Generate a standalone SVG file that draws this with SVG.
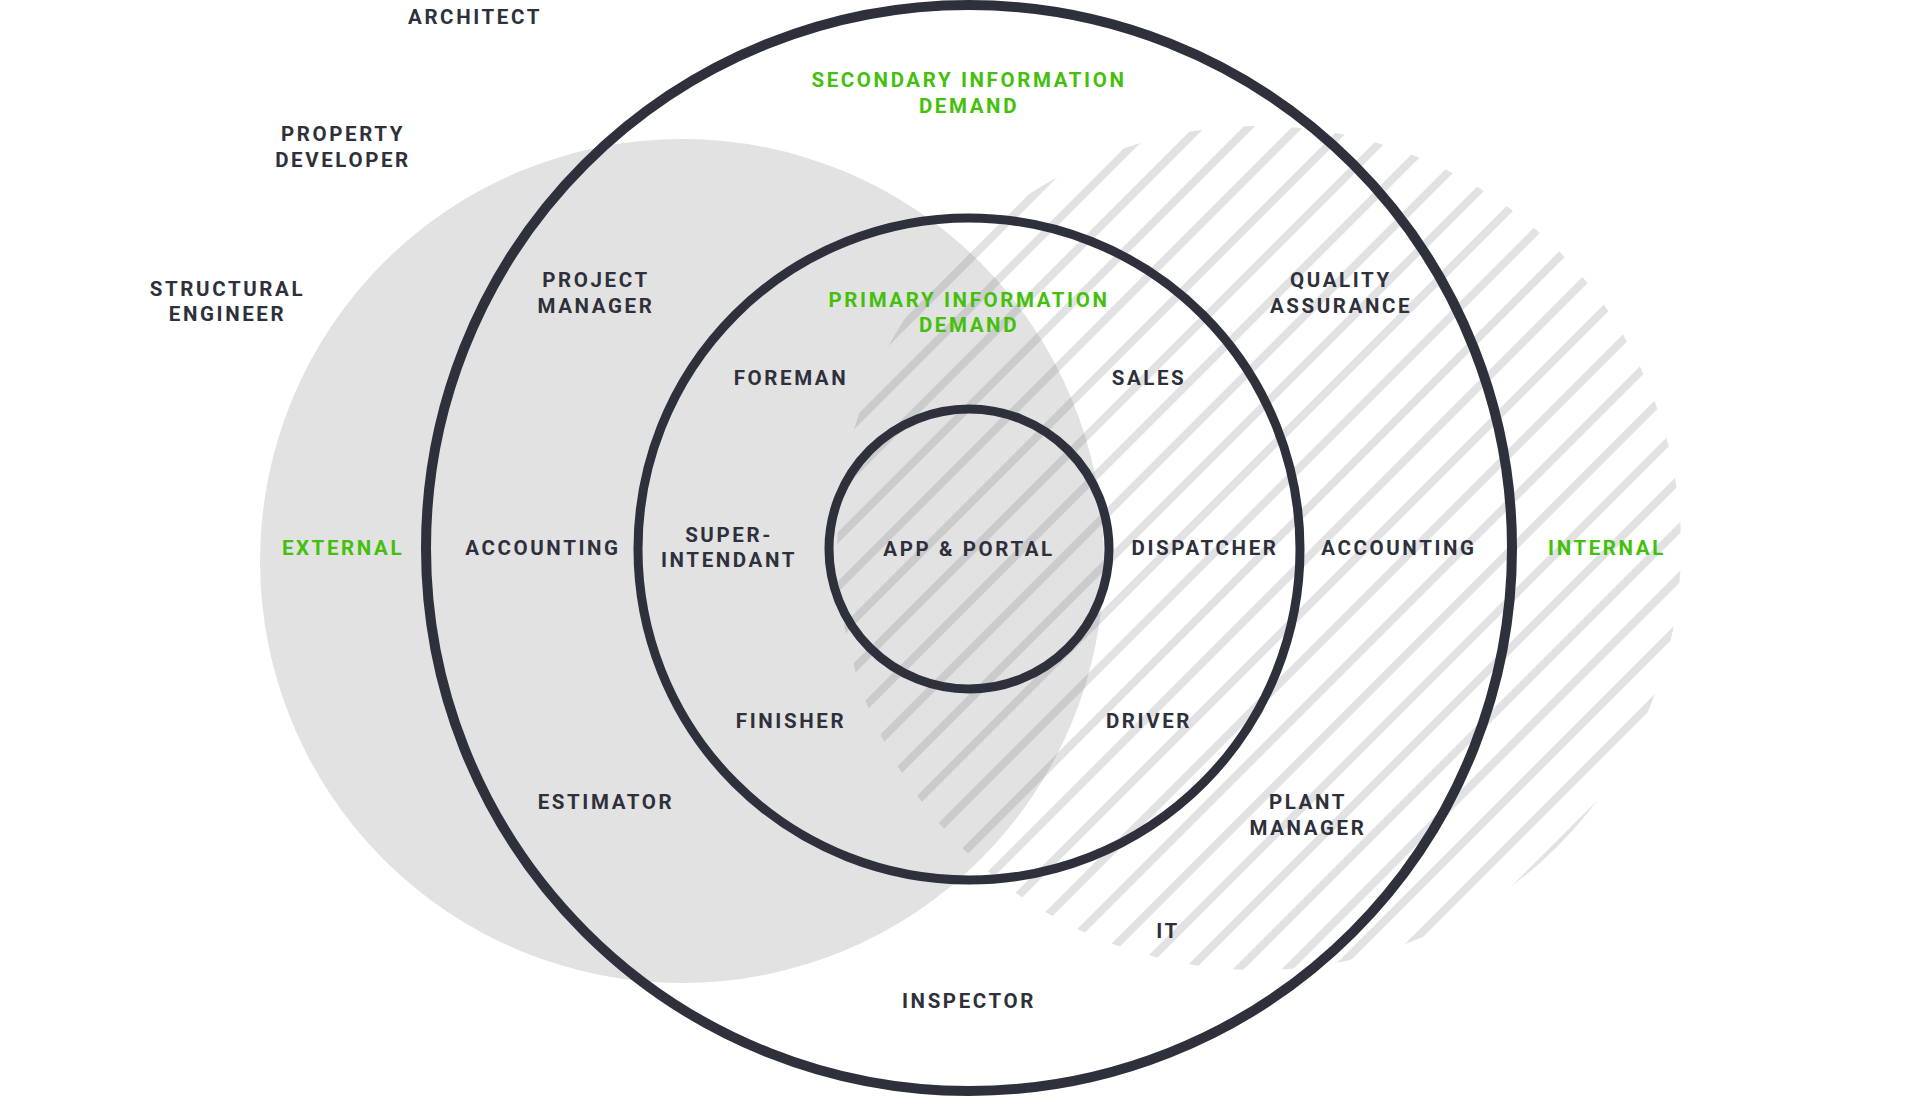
<svg xmlns="http://www.w3.org/2000/svg" width="1908" height="1098" viewBox="0 0 1908 1098">
<style>
.lbl{font-family:Roboto,"Liberation Sans",sans-serif;font-weight:700;font-size:20.5px;letter-spacing:2.6px;fill:#2e303b;text-anchor:middle}
.grn{fill:#44bf0c}
.ring{fill:none;stroke:#2e303b}
</style>
<defs>
<pattern id="hatch" patternUnits="userSpaceOnUse" width="34.6" height="40" patternTransform="rotate(45)">
<rect x="0" y="0" width="8" height="40" fill="#6f6f78" fill-opacity="0.2"/>
</pattern>
</defs>
<rect x="0" y="0" width="1908" height="1098" fill="#ffffff"/>
<g id="external-zone">
<circle cx="682" cy="561" r="422" fill="#e2e2e2"/>
</g>
<g id="internal-zone">
<circle cx="1259" cy="548" r="422" fill="url(#hatch)"/>
</g>
<g id="rings">
<circle class="ring" cx="969" cy="548" r="543" stroke-width="10"/>
<circle class="ring" cx="969" cy="549" r="331" stroke-width="9"/>
<circle class="ring" cx="969" cy="549" r="140" stroke-width="9"/>
</g>
<g id="architect"><text class="lbl" x="475" y="24">ARCHITECT</text></g>
<g id="property-developer"><text class="lbl" x="343" y="141">PROPERTY</text><text class="lbl" x="343" y="166.5">DEVELOPER</text></g>
<g id="structural-engineer"><text class="lbl" x="227.5" y="295.5">STRUCTURAL</text><text class="lbl" x="227.5" y="321">ENGINEER</text></g>
<g id="external"><text class="lbl grn" x="343" y="555">EXTERNAL</text></g>
<g id="accounting-ext"><text class="lbl" x="543" y="555">ACCOUNTING</text></g>
<g id="project-manager"><text class="lbl" x="596" y="287">PROJECT</text><text class="lbl" x="596" y="312.5">MANAGER</text></g>
<g id="secondary-demand"><text class="lbl grn" x="969" y="87.3">SECONDARY INFORMATION</text><text class="lbl grn" x="969" y="112.7">DEMAND</text></g>
<g id="primary-demand"><text class="lbl grn" x="969" y="306.5">PRIMARY INFORMATION</text><text class="lbl grn" x="969" y="332">DEMAND</text></g>
<g id="foreman"><text class="lbl" x="791" y="384.5">FOREMAN</text></g>
<g id="sales"><text class="lbl" x="1149" y="384.5">SALES</text></g>
<g id="superintendant"><text class="lbl" x="729" y="541.5">SUPER-</text><text class="lbl" x="729" y="567">INTENDANT</text></g>
<g id="app-portal"><text class="lbl" x="969" y="556">APP &amp; PORTAL</text></g>
<g id="dispatcher"><text class="lbl" x="1205" y="555">DISPATCHER</text></g>
<g id="accounting-int"><text class="lbl" x="1399" y="555">ACCOUNTING</text></g>
<g id="internal"><text class="lbl grn" x="1607" y="555">INTERNAL</text></g>
<g id="quality-assurance"><text class="lbl" x="1341" y="287">QUALITY</text><text class="lbl" x="1341" y="312.5">ASSURANCE</text></g>
<g id="finisher"><text class="lbl" x="791" y="727.5">FINISHER</text></g>
<g id="driver"><text class="lbl" x="1149" y="727.5">DRIVER</text></g>
<g id="estimator"><text class="lbl" x="606" y="809">ESTIMATOR</text></g>
<g id="plant-manager"><text class="lbl" x="1308" y="809">PLANT</text><text class="lbl" x="1308" y="834.5">MANAGER</text></g>
<g id="it"><text class="lbl" x="1168" y="938">IT</text></g>
<g id="inspector"><text class="lbl" x="969" y="1007.5">INSPECTOR</text></g>
</svg>
